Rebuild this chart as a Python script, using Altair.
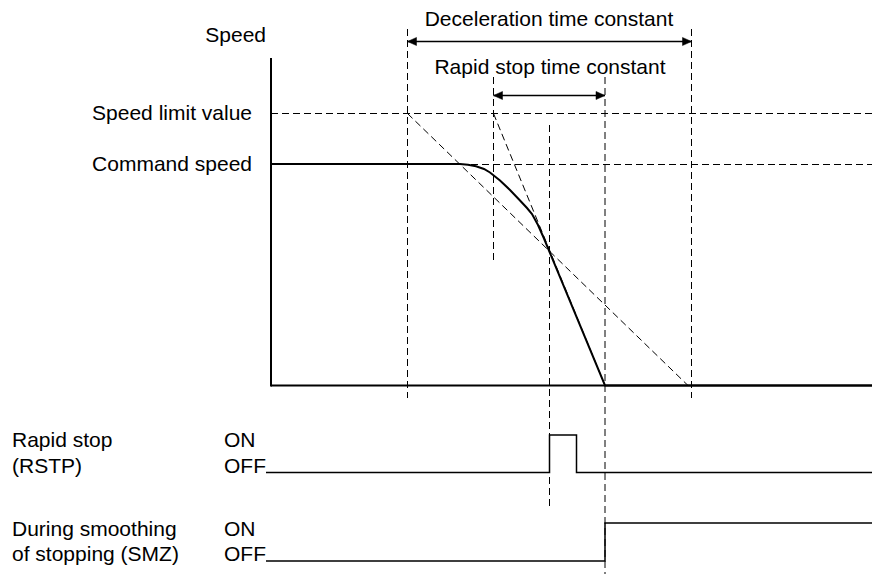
import altair as alt
import pandas as pd

FONT = "Liberation Sans"
FS = 21

# ---- time marks along the horizontal (layout units) ----
T_AXIS = 271
T_DECEL_START = 407.5
T_RAPID_START = 493.5
T_RSTP = 549.5
T_RSTP_OFF = 576.5
T_STOP = 605
T_DECEL_END = 691.5
T_END = 872

# ---- vertical levels (layout units, downwards) ----
Y_LIMIT = 113.5
Y_CMD = 164
Y_CMD_GUIDE = 164.5
Y_ZERO = 385.5
Y_AXIS_TOP = 58

# speed curve
speed_t = [T_AXIS, 460, 468, 476, 484, 490, 500, 510, 520, 527, 532, 538, 544, 550, T_STOP, T_END]
speed_y = [Y_CMD, Y_CMD, 164.8, 166.3, 169, 172.5, 180.5, 190, 200.5, 208, 214, 225, 238.5, 253, Y_ZERO, Y_ZERO]

# RSTP signal
rstp_t = [266, T_RSTP, T_RSTP, T_RSTP_OFF, T_RSTP_OFF, T_END]
rstp_y = [472.5, 472.5, 435, 435, 472.5, 472.5]

# SMZ signal
smz_t = [266, T_STOP, T_STOP, T_END]
smz_y = [561, 561, 523, 523]

# dashed guide segments: x, y, x2, y2
guide_x = [T_DECEL_START, T_RAPID_START, T_RSTP, T_STOP, T_DECEL_END, T_AXIS, 460, T_DECEL_START, T_RAPID_START]
guide_y = [29, 77, 125, 77, 29, Y_LIMIT, Y_CMD_GUIDE, Y_LIMIT, Y_LIMIT]
guide_x2 = [T_DECEL_START, T_RAPID_START, T_RSTP, T_STOP, T_DECEL_END, T_END, T_END, 688, T_STOP]
guide_y2 = [398, 260, 506, 582, 398, Y_LIMIT, Y_CMD_GUIDE, Y_ZERO, Y_ZERO]

# solid axes: x, y, x2, y2
axis_x = [T_AXIS, T_AXIS]
axis_y = [Y_AXIS_TOP, Y_ZERO]
axis_x2 = [T_AXIS, T_END]
axis_y2 = [Y_ZERO + 1, Y_ZERO]

# dimension arrows
arrow_x = [T_DECEL_START, T_RAPID_START]
arrow_y = [41.5, 95.5]
arrow_x2 = [T_DECEL_END, T_STOP]

# text labels
label_text = ["Speed", "Speed limit value", "Command speed",
              "Deceleration time constant", "Rapid stop time constant",
              "Rapid stop", "(RSTP)", "During smoothing", "of stopping (SMZ)",
              "ON", "OFF", "ON", "OFF"]
label_x = [266, 252, 252, 549, 550, 12, 12, 12, 12, 224, 224, 224, 224]
label_y = [42, 119.5, 171, 25.5, 74, 447, 473, 536, 561, 447, 473, 536, 561]
label_align = ["right", "right", "right", "center", "center",
               "left", "left", "left", "left", "left", "left", "left", "left"]

xs = alt.Scale(domain=[8, 872], nice=False, zero=False)
ys = alt.Scale(domain=[8, 574], nice=False, zero=False, reverse=True)


def X(f):
    return alt.X(f, type="quantitative", scale=xs, axis=None)


def Y(f):
    return alt.Y(f, type="quantitative", scale=ys, axis=None)


def line_df(t, y):
    return pd.DataFrame({"t": t, "y": y, "i": list(range(len(t)))})


def line_layer(t, y, width):
    return alt.Chart(line_df(t, y)).mark_line(color="black", strokeWidth=width).encode(
        x=X("t"), y=Y("y"), order=alt.Order("i:Q"))


guides = alt.Chart(pd.DataFrame({"x": guide_x, "y": guide_y, "x2": guide_x2, "y2": guide_y2})).mark_rule(
    color="black", strokeWidth=1, strokeDash=[7, 4]).encode(
    x=X("x"), y=Y("y"), x2="x2", y2="y2")

axes = alt.Chart(pd.DataFrame({"x": axis_x, "y": axis_y, "x2": axis_x2, "y2": axis_y2})).mark_rule(
    color="black", strokeWidth=2).encode(
    x=X("x"), y=Y("y"), x2="x2", y2="y2")

arrow_df = pd.DataFrame({"x": arrow_x, "y": arrow_y, "x2": arrow_x2})
arrows = alt.Chart(arrow_df).mark_rule(color="black", strokeWidth=1.5).encode(
    x=X("x"), y=Y("y"), x2="x2")
heads_left = alt.Chart(arrow_df).mark_point(
    shape="M0,0L2,-0.9L2,0.9Z", filled=True, fill="black", stroke="black", strokeWidth=0.5,
    size=81, opacity=1).encode(x=X("x"), y=Y("y"))
heads_right = alt.Chart(arrow_df).mark_point(
    shape="M0,0L-2,-0.9L-2,0.9Z", filled=True, fill="black", stroke="black", strokeWidth=0.5,
    size=81, opacity=1).encode(x=X("x2"), y=Y("y"))

speed = line_layer(speed_t, speed_y, 2)
rstp = line_layer(rstp_t, rstp_y, 1.5)
smz = line_layer(smz_t, smz_y, 1.5)

labels = alt.Chart(pd.DataFrame({"text": label_text, "x": label_x, "y": label_y, "align": label_align}))
text_layers = []
for al in ["left", "center", "right"]:
    text_layers.append(
        labels.transform_filter(alt.datum.align == al).mark_text(
            align=al, baseline="alphabetic", font=FONT, fontSize=FS, color="black").encode(
            x=X("x"), y=Y("y"), text="text:N"))

chart = alt.layer(guides, axes, arrows, heads_left, heads_right, speed, rstp, smz, *text_layers).properties(
    width=864, height=566,
    autosize=alt.AutoSizeParams(type="none"),
    padding=0,
    background="white",
).configure_view(stroke=None)

chart.save("out.html", embed_options={"renderer": "svg", "actions": False})
